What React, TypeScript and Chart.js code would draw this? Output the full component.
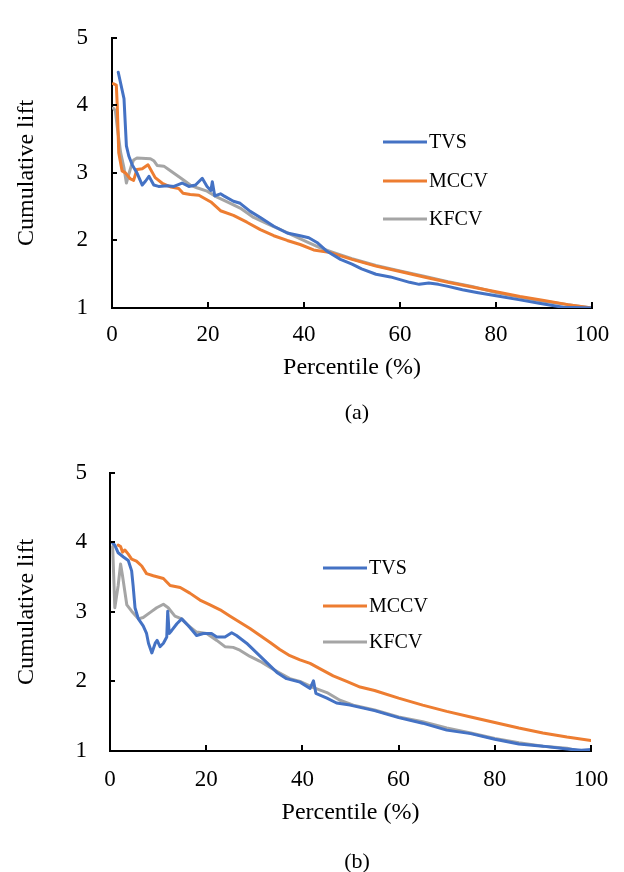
import React, { useEffect, useRef } from 'react';
import { Chart, registerables } from 'chart.js';

Chart.register(...registerables);

const SERIES_LABELS = ['TVS', 'MCCV', 'KFCV'];
const SERIES_COLORS = ['#4472C4', '#ED7D31', '#A5A5A5'];
const X_TICKS = [0, 20, 40, 60, 80, 100];
const Y_TICKS = [1, 2, 3, 4, 5];
const X_TITLE = 'Percentile (%)';
const Y_TITLE = 'Cumulative lift';

// ---- Panel (a) ----
const tvsA_x = [1.3, 2.5, 3.0, 3.5, 4.2, 5.2, 6.3, 7.0, 7.7, 8.7, 9.7, 11.5, 12.9, 14.6, 16.0, 17.4, 18.8, 19.8, 20.6, 20.9, 21.4, 22.6, 23.3, 25.3, 26.7, 28.8, 30.9, 33.7, 36.5, 39.2, 41.0, 42.7, 44.8, 47.6, 50, 52, 55, 58, 60, 62, 64, 66, 68, 70, 73, 76, 80, 85, 89, 94, 100];
const tvsA_y = [4.49, 4.1, 3.4, 3.25, 3.12, 3.0, 2.82, 2.88, 2.95, 2.82, 2.8, 2.81, 2.8, 2.85, 2.8, 2.82, 2.92, 2.8, 2.74, 2.87, 2.66, 2.69, 2.66, 2.58, 2.55, 2.43, 2.34, 2.21, 2.11, 2.07, 2.04, 1.97, 1.84, 1.72, 1.65, 1.58, 1.5, 1.46, 1.42, 1.38, 1.35, 1.37, 1.35, 1.32, 1.27, 1.23, 1.18, 1.12, 1.07, 1.01, 1.0];

const mccvA_x = [0.25, 0.9, 1.1, 1.4, 2.1, 2.8, 3.85, 4.5, 5.2, 6.3, 7.5, 9.0, 10.6, 12.3, 13.9, 14.8, 16.3, 18.1, 20.6, 22.6, 25.3, 28.1, 30.9, 33.7, 36.5, 39.2, 42, 45.5, 50, 55, 60, 65, 70, 75, 80, 85, 90, 95, 100];
const mccvA_y = [4.32, 4.3, 3.99, 3.3, 3.03, 3.0, 2.91, 2.89, 3.05, 3.06, 3.12, 2.93, 2.84, 2.79, 2.77, 2.7, 2.68, 2.67, 2.57, 2.44, 2.37, 2.27, 2.16, 2.07, 2.0, 1.94, 1.86, 1.82, 1.72, 1.62, 1.54, 1.46, 1.38, 1.31, 1.24, 1.17, 1.11, 1.05, 1.0];

const kfcvA_x = [0.25, 0.7, 1.2, 1.8, 2.5, 3.0, 3.5, 4.0, 4.5, 5.2, 8.0, 8.7, 9.4, 10.8, 11.8, 13.2, 14.6, 16.3, 17.7, 19.8, 21.9, 24, 26.7, 29.5, 32.3, 35.1, 37.8, 40.6, 43.4, 46.2, 50, 55, 60, 65, 70, 75, 80, 85, 90, 95, 100];
const kfcvA_y = [3.96, 3.92, 3.62, 3.3, 3.07, 2.85, 2.98, 3.1, 3.19, 3.22, 3.21, 3.18, 3.11, 3.1, 3.05, 2.98, 2.91, 2.82, 2.78, 2.73, 2.64, 2.57, 2.48, 2.34, 2.25, 2.16, 2.07, 1.98, 1.89, 1.82, 1.73, 1.63, 1.55, 1.47, 1.39, 1.32, 1.23, 1.16, 1.1, 1.05, 1.0];

// ---- Panel (b) ----
const tvsB_x = [0.55, 1.0, 1.7, 2.8, 3.8, 4.5, 4.8, 5.2, 5.9, 6.9, 7.6, 8.0, 8.7, 9.4, 9.8, 10.4, 11.1, 11.8, 12.0, 12.3, 12.8, 13.9, 14.9, 16.3, 18.0, 19.4, 21.1, 22.2, 23.9, 25.3, 26.3, 28.4, 30.5, 32.6, 34.7, 36.7, 39.5, 41.6, 42.3, 42.8, 45.1, 47.1, 49.9, 55, 60, 65, 70, 75, 80, 85, 90, 95, 98, 100];
const tvsB_y = [3.99, 3.96, 3.85, 3.79, 3.74, 3.59, 3.38, 3.06, 2.9, 2.8, 2.69, 2.55, 2.41, 2.55, 2.59, 2.5, 2.55, 2.64, 3.01, 2.69, 2.73, 2.83, 2.9, 2.8, 2.66, 2.69, 2.69, 2.64, 2.64, 2.7, 2.66, 2.55, 2.41, 2.27, 2.13, 2.04, 1.99, 1.9, 2.01, 1.83, 1.76, 1.69, 1.66, 1.58, 1.48, 1.4, 1.3, 1.25, 1.17, 1.1, 1.07, 1.03, 1.01, 1.02];

const mccvB_x = [1.7, 2.2, 2.6, 3.1, 3.8, 4.5, 5.5, 6.6, 7.6, 9.0, 11.1, 12.5, 14.6, 16.6, 18.7, 20.8, 22.9, 24.9, 27.0, 29.1, 31.2, 33.3, 35.3, 37.4, 39.5, 41.6, 43.7, 46.4, 49.2, 52, 55, 60, 65, 70, 75, 80, 85, 90, 95, 100];
const mccvB_y = [3.96, 3.94, 3.86, 3.89, 3.83, 3.76, 3.73, 3.66, 3.55, 3.52, 3.48, 3.38, 3.35, 3.27, 3.17, 3.1, 3.03, 2.94, 2.85, 2.76, 2.66, 2.56, 2.46, 2.37, 2.31, 2.26, 2.18, 2.08, 2.0, 1.92, 1.87, 1.76, 1.66, 1.57, 1.49, 1.41, 1.33, 1.26, 1.2, 1.15];

const kfcvB_x = [0.55, 1.0, 1.7, 2.2, 2.6, 3.5, 4.5, 5.9, 6.9, 8.3, 9.7, 11.1, 12.1, 13.5, 14.9, 16.3, 18.0, 20.1, 22.2, 23.9, 25.6, 27.0, 29.1, 31.2, 33.3, 35.3, 37.4, 39.5, 42.3, 45.1, 47.8, 50.6, 55, 60, 65, 70, 75, 80, 85, 90, 95, 97.5, 100];
const kfcvB_y = [3.94, 3.06, 3.38, 3.69, 3.52, 3.1, 3.01, 2.9, 2.92, 2.99, 3.06, 3.11, 3.06, 2.94, 2.9, 2.8, 2.71, 2.69, 2.59, 2.5, 2.49, 2.45, 2.36, 2.29, 2.2, 2.12, 2.04, 2.0, 1.91, 1.84, 1.73, 1.66, 1.59, 1.49, 1.42, 1.33, 1.26, 1.18, 1.12, 1.07, 1.04, 1.0, 1.0];

const FONT = "'Liberation Serif', 'Times New Roman', serif";

const toPoints = (xs: number[], ys: number[]) => xs.map((x, i) => ({ x, y: ys[i] }));

const decorPlugin = {
  id: 'decor',
  afterDraw(chart: any, _args: any, opts: any) {
    const { ctx, chartArea, scales } = chart;
    ctx.save();
    ctx.strokeStyle = '#000';
    ctx.lineWidth = 2;
    for (const v of Y_TICKS) {
      if (v === Y_TICKS[0]) continue;
      const y = Math.round(scales.y.getPixelForValue(v));
      ctx.beginPath();
      ctx.moveTo(chartArea.left, y);
      ctx.lineTo(chartArea.left + 5, y);
      ctx.stroke();
    }
    for (const v of X_TICKS) {
      if (v === X_TICKS[0]) continue;
      const x = Math.round(scales.x.getPixelForValue(v));
      ctx.beginPath();
      ctx.moveTo(x, chartArea.bottom);
      ctx.lineTo(x, chartArea.bottom - 6);
      ctx.stroke();
    }
    // legend
    ctx.font = `20px ${FONT}`;
    ctx.textBaseline = 'middle';
    ctx.textAlign = 'left';
    chart.data.datasets.forEach((ds: any, i: number) => {
      const y = opts.ys[i];
      ctx.strokeStyle = ds.borderColor;
      ctx.lineWidth = 3;
      ctx.beginPath();
      ctx.moveTo(opts.x, y);
      ctx.lineTo(opts.x + 44, y);
      ctx.stroke();
      ctx.fillStyle = '#000';
      ctx.fillText(ds.label, opts.x + 46, y + 1);
    });
    ctx.restore();
  },
};

type PanelProps = {
  top: number;
  height: number;
  series: { x: number[]; y: number[] }[];
  padTop: number;
  padRight: number;
  yWidth: number;
  xHeight: number;
  yTickPad: number;
  xTickPad: number;
  xTitlePad: number;
  legendX: number;
  legendYs: number[];
  label: string;
  labelTop: number;
  labelX: number;
};

function Panel(p: PanelProps) {
  const ref = useRef<HTMLCanvasElement>(null);
  useEffect(() => {
    if (!ref.current) return;
    const chart = new Chart(ref.current, {
      type: 'line',
      data: {
        datasets: p.series.map((s, i) => ({
          label: SERIES_LABELS[i],
          data: toPoints(s.x, s.y),
          borderColor: SERIES_COLORS[i],
          backgroundColor: SERIES_COLORS[i],
          borderWidth: 3,
          pointRadius: 0,
          tension: 0,
          fill: false,
          borderJoinStyle: 'round' as const,
          borderCapStyle: 'round' as const,
        })),
      },
      options: {
        animation: false,
        responsive: false,
        maintainAspectRatio: false,
        layout: { padding: { top: p.padTop, right: p.padRight, left: 0, bottom: 0 } },
        plugins: {
          legend: { display: false },
          tooltip: { enabled: false },
          decor: { x: p.legendX, ys: p.legendYs },
        } as any,
        scales: {
          x: {
            type: 'linear',
            min: 0,
            max: 100,
            afterFit: (s: any) => { s.height = p.xHeight; },
            grid: { display: false, drawTicks: false },
            border: { display: true, color: '#000', width: 2 },
            ticks: {
              stepSize: 20,
              padding: p.xTickPad,
              color: '#000',
              font: { family: FONT, size: 23 },
              maxRotation: 0,
              autoSkip: false,
            },
            title: {
              display: true,
              text: X_TITLE,
              color: '#000',
              font: { family: FONT, size: 24 },
              padding: { top: 0, bottom: p.xTitlePad },
            },
          },
          y: {
            type: 'linear',
            min: 1,
            max: 5,
            afterFit: (s: any) => { s.width = p.yWidth; },
            grid: { display: false, drawTicks: false },
            border: { display: true, color: '#000', width: 2 },
            ticks: {
              stepSize: 1,
              padding: p.yTickPad,
              color: '#000',
              font: { family: FONT, size: 23 },
            },
            title: {
              display: true,
              text: Y_TITLE,
              color: '#000',
              font: { family: FONT, size: 24 },
              padding: { top: 12, bottom: 0 },
            },
          },
        },
      } as any,
      plugins: [decorPlugin],
    });
    return () => chart.destroy();
  }, []);
  return (
    <>
      <canvas
        ref={ref}
        width={624}
        height={p.height}
        style={{ position: 'absolute', left: 0, top: p.top, width: 624, height: p.height }}
      />
      <div
        style={{
          position: 'absolute',
          top: p.labelTop,
          left: p.labelX - 30,
          width: 60,
          textAlign: 'center',
          fontFamily: FONT,
          fontSize: 22,
          lineHeight: '22px',
          color: '#000',
        }}
      >
        {p.label}
      </div>
    </>
  );
}

export default function App() {
  return (
    <div style={{ position: 'absolute', left: 0, top: 0, width: 624, height: 872, background: '#fff', overflow: 'hidden' }}>
      <Panel
        top={0}
        height={436}
        series={[{ x: tvsA_x, y: tvsA_y }, { x: mccvA_x, y: mccvA_y }, { x: kfcvA_x, y: kfcvA_y }]}
        padTop={16}
        padRight={32}
        yWidth={112}
        xHeight={128}
        yTickPad={24}
        xTickPad={13}
        xTitlePad={54}
        legendX={383}
        legendYs={[142, 181, 219]}
        label="(a)"
        labelTop={401}
        labelX={357}
      />
      <Panel
        top={436}
        height={436}
        series={[{ x: tvsB_x, y: tvsB_y }, { x: mccvB_x, y: mccvB_y }, { x: kfcvB_x, y: kfcvB_y }]}
        padTop={28}
        padRight={33}
        yWidth={110}
        xHeight={121}
        yTickPad={23}
        xTickPad={15}
        xTitlePad={45}
        legendX={323}
        legendYs={[132, 170, 206]}
        label="(b)"
        labelTop={850}
        labelX={357}
      />
    </div>
  );
}
